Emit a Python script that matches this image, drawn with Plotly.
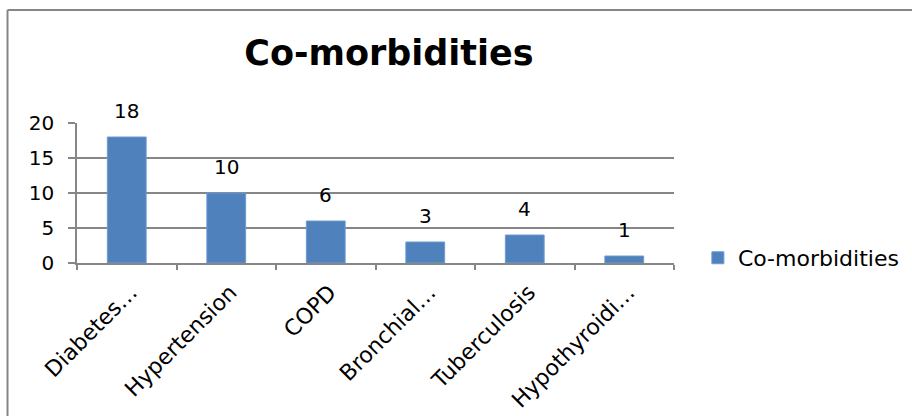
import plotly.graph_objects as go

categories = ["Diabetes…", "Hypertension", "COPD", "Bronchial…", "Tuberculosis", "Hypothyroidi…"]
counts = [18, 10, 6, 3, 4, 1]
series_name = "Co-morbidities"
y_ticks = [0, 5, 10, 15, 20]

FONT = "DejaVu Sans, sans-serif"
GRID = "#868686"
BAR = "#4F81BD"

fig = go.Figure()
fig.add_trace(go.Bar(
    x=categories,
    y=counts,
    name=series_name,
    marker=dict(color=BAR, line=dict(color="#6E9AD0", width=1)),
    cliponaxis=False,
    showlegend=True,
))

# value labels above each bar
for cat, val in zip(categories, counts):
    fig.add_annotation(
        x=cat, y=val, xref="x", yref="y",
        text=str(val), showarrow=False,
        yanchor="middle", yshift=26,
        font=dict(family=FONT, size=20, color="#000000"),
    )

# outer chart frame: top and left edges
fig.add_shape(type="line", xref="paper", yref="paper",
              x0=-0.1164, x1=1.57, y0=1.807, y1=1.807,
              line=dict(color=GRID, width=2))
fig.add_shape(type="line", xref="paper", yref="paper",
              x0=-0.1164, x1=-0.1164, y0=1.807, y1=-1.2,
              line=dict(color=GRID, width=2))

fig.update_layout(
    width=912, height=416,
    margin=dict(l=77, r=238, t=123, b=153, autoexpand=False),
    paper_bgcolor="white",
    plot_bgcolor="white",
    font=dict(family=FONT, size=20, color="#000000"),
    bargap=0.61,
    title=dict(
        text="<b>Co-morbidities</b>",
        font=dict(family=FONT, size=35, color="#000000"),
        x=0.4265, xref="container", xanchor="center",
        y=0.8726, yref="container", yanchor="middle",
    ),
    legend=dict(
        x=1.04, xref="paper", xanchor="left",
        y=0.036, yref="paper", yanchor="middle",
        font=dict(family=FONT, size=22, color="#000000"),
        bgcolor="rgba(0,0,0,0)",
    ),
    xaxis=dict(
        type="category",
        automargin=False,
        tickangle=-45,
        ticks="outside",
        tickson="boundaries",
        ticklen=5,
        tickcolor=GRID,
        tickwidth=1.5,
        showline=True,
        linecolor=GRID,
        linewidth=1.5,
        showgrid=False,
        ticklabelshift=4,
        ticklabelstandoff=6,
        tickfont=dict(family=FONT, size=22, color="#000000"),
    ),
    yaxis=dict(
        range=[0, 20],
        automargin=False,
        tickvals=y_ticks,
        ticks="outside",
        ticklen=7,
        tickcolor=GRID,
        tickwidth=1.5,
        showline=True,
        linecolor=GRID,
        linewidth=1.5,
        showgrid=True,
        gridcolor=GRID,
        gridwidth=1.5,
        zeroline=False,
        ticklabelstandoff=10,
        tickfont=dict(family=FONT, size=20, color="#000000"),
    ),
)

fig.write_html("out.html")
